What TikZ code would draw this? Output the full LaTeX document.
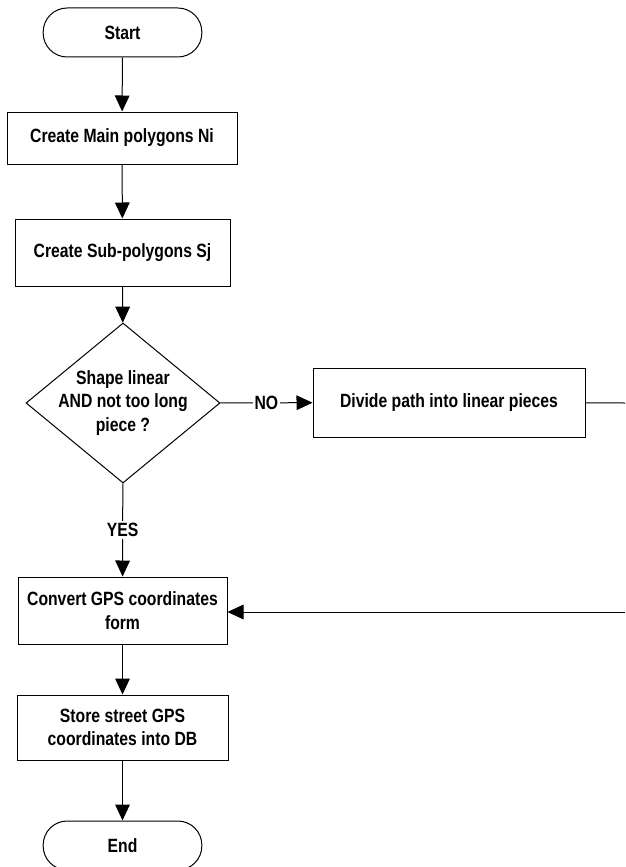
\documentclass[tikz,border=0pt]{standalone}
\usepackage{fontspec}
\setmainfont[FakeStretch=0.82]{Liberation Sans}
\usepackage{tikz}
\usetikzlibrary{arrows.meta, shapes.geometric}
\newcommand{\flowfont}{\fontsize{14.4}{17.6}\selectfont\bfseries}

\begin{document}
\begin{tikzpicture}[x=0.75pt, y=-0.75pt,
    base/.style={draw, line width=0.75pt, font=\flowfont, align=center, inner sep=0pt},
    terminal/.style={base, rounded corners=18pt, minimum width=119pt, minimum height=36.75pt},
    process/.style={base},
    decision/.style={base, diamond, minimum width=145.5pt, minimum height=120pt},
    flow/.style={line width=0.75pt, -{Triangle[length=12pt, width=11pt]}},
    lbl/.style={fill=white, font=\flowfont, inner sep=1.5pt}
]
  \useasboundingbox (0,0) rectangle (625,867);

  % Start und erste Schritte
  \node[terminal] (start) at (122.5,32.5) {Start};
  \node[process, minimum width=172.5pt, minimum height=39pt] (mainpoly) at (122,138) {Create Main polygons Ni};
  \node[process, minimum width=161.25pt, minimum height=50.25pt] (subpoly) at (122.5,252.5) {Create Sub-polygons Sj};

  % Entscheidung
  \node[decision, label={[align=center, font=\flowfont]center:Shape linear\\AND not too long\\piece ?}] (check) at (123,403) {};

  % Zweig NO
  \node[process, minimum width=204pt, minimum height=51.75pt] (divide) at (449,402.5) {Divide path into linear pieces};
  \coordinate (rechts1) at (625,403);
  \coordinate (rechts2) at (625,612);

  % Umwandeln und Speichern
  \node[process, minimum width=156.75pt, minimum height=50.25pt] (convert) at (122.5,610.5) {Convert GPS coordinates\\form};
  \node[process, minimum width=158.25pt, minimum height=48.75pt] (store) at (122.5,727.5) {Store street GPS\\coordinates into DB};
  \node[terminal] (end) at (122.5,845.5) {End};

  % Pfeile
  \draw[flow] (start) -- (mainpoly);
  \draw[flow] (mainpoly) -- (subpoly);
  \draw[flow] (subpoly) -- (check);
  \draw[flow] (check) -- node[lbl] {NO} (divide);
  \draw[line width=0.75pt] (divide) -- (rechts1);
  \draw[flow] (check) -- node[lbl] {YES} (convert);
  \draw[flow] (rechts2) -- (rechts2 -| convert.east);
  \draw[flow] (convert) -- (store);
  \draw[flow] (store) -- (end);

\end{tikzpicture}
\end{document}
